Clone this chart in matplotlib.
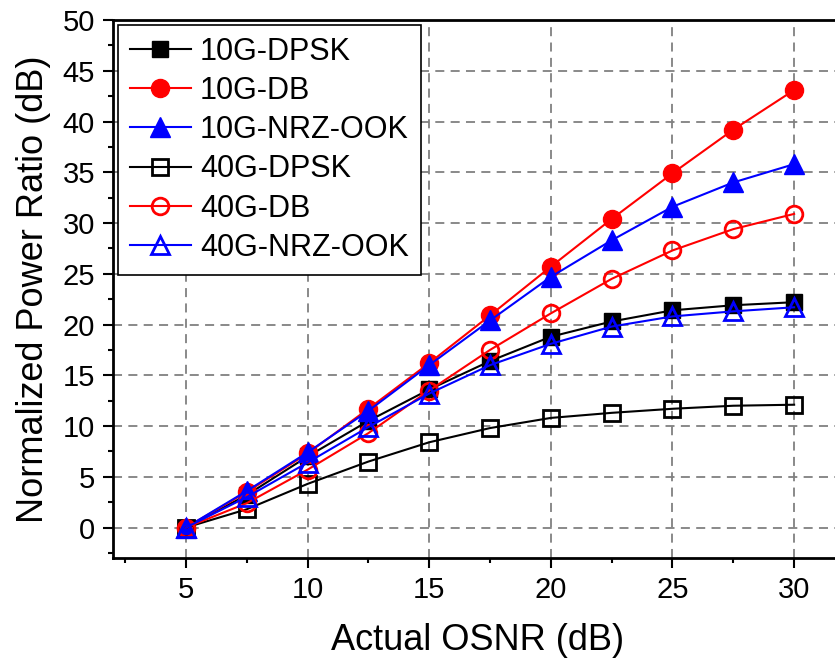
import numpy as np
from matplotlib import pyplot as plt

plt.rcParams['font.family'] = ['Liberation Sans', 'DejaVu Sans']

# 数据
osnr = [5, 7.5, 10, 12.5, 15, 17.5, 20, 22.5, 25, 27.5, 30]
dpsk_10g = [0, 3.2, 7.0, 10.5, 13.6, 16.4, 18.8, 20.3, 21.4, 21.9, 22.2]
db_10g = [0, 3.5, 7.3, 11.7, 16.2, 20.9, 25.7, 30.4, 34.9, 39.2, 43.1]
ook_10g = [0, 3.6, 7.4, 11.5, 16.0, 20.4, 24.7, 28.3, 31.6, 34.0, 35.8]
dpsk_40g = [0, 1.8, 4.3, 6.5, 8.4, 9.8, 10.8, 11.3, 11.7, 12.0, 12.1]
db_40g = [0, 2.4, 5.7, 9.3, 13.5, 17.5, 21.1, 24.5, 27.3, 29.4, 30.9]
ook_40g = [0, 3.0, 6.4, 9.9, 13.2, 16.0, 18.1, 19.8, 20.8, 21.3, 21.7]

fig = plt.figure(figsize=(8.35, 6.68), dpi=100)
ax = fig.add_axes([0.1353, 0.1647, 0.874, 0.8053])

ax.plot(osnr, dpsk_10g, 'k-s', lw=1.5, ms=11, label='10G-DPSK')
ax.plot(osnr, db_10g, 'r-o', lw=1.5, ms=13, label='10G-DB')
ax.plot(osnr, ook_10g, 'b-^', lw=1.5, ms=14, label='10G-NRZ-OOK')
ax.plot(osnr, dpsk_40g, 'k-s', lw=1.5, ms=11, mfc='none', mew=2, label='40G-DPSK')
ax.plot(osnr, db_40g, 'r-o', lw=1.5, ms=12, mfc='none', mew=2, label='40G-DB')
ax.plot(osnr, ook_40g, 'b-^', lw=1.5, ms=13, mfc='none', mew=2, label='40G-NRZ-OOK')

ax.set_xlim(2, 32)
ax.set_ylim(-3, 50)
ax.set_xticks(np.arange(5, 31, 5))
ax.set_xticks(np.arange(2.5, 32, 2.5), minor=True)
ax.set_yticks(np.arange(0, 51, 5))
ax.set_yticks(np.arange(-2.5, 50, 2.5), minor=True)
ax.grid(True, which='major', ls=(0, (5, 3.5)), color='#808080', lw=1.3)

ax.tick_params(which='major', direction='out', length=7, width=1.5, labelsize=21, pad=6)
ax.tick_params(which='minor', direction='out', length=3.5, width=1.5)
for s in ax.spines.values():
    s.set_linewidth(2)

ax.set_xlabel('Actual OSNR (dB)', fontsize=26, labelpad=14)
ax.set_ylabel('Normalized Power Ratio (dB)', fontsize=26, labelpad=8)

leg = ax.legend(loc='upper left', fontsize=22, frameon=True, fancybox=False,
                edgecolor='k', framealpha=1, handlelength=2.0, handletextpad=0.3,
                labelspacing=0.3, borderaxespad=0.15, borderpad=0.4)
leg.get_frame().set_linewidth(1.2)

plt.savefig('out.png', dpi=100)
